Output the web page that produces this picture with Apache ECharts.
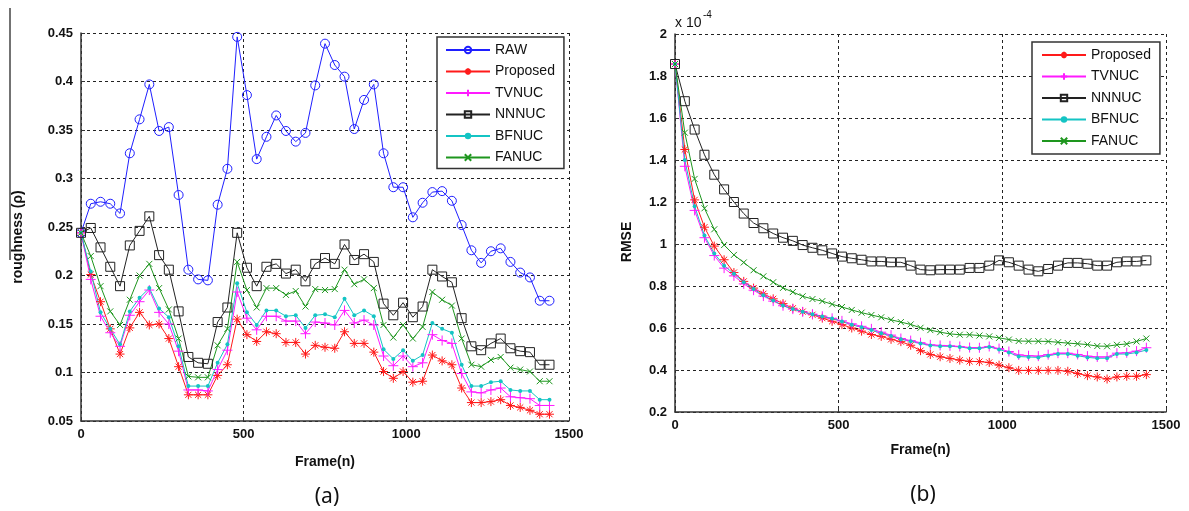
<!DOCTYPE html>
<html>
<head>
<meta charset="utf-8">
<script src="https://cdn.jsdelivr.net/npm/echarts@6/dist/echarts.min.js"></script>
<style>
html,body{margin:0;padding:0;background:#fff;}
#c{width:1189px;height:511px;}
</style>
</head>
<body>
<div id="c"></div>
<script>
// Frame positions of the markers
const frames = [0,30,60,90,120,150,180,210,240,270,300,330,360,390,420,450,480,510,540,570,600,630,660,690,720,750,780,810,840,870,900,930,960,990,1020,1050,1080,1110,1140,1170,1200,1230,1260,1290,1320,1350,1380,1410,1440];

// (a) roughness
const rawRough  = [0.244,0.274,0.276,0.274,0.264,0.326,0.361,0.397,0.349,0.353,0.283,0.206,0.196,0.195,0.273,0.310,0.446,0.386,0.320,0.343,0.365,0.349,0.338,0.347,0.396,0.439,0.417,0.405,0.351,0.381,0.397,0.326,0.291,0.291,0.260,0.275,0.286,0.287,0.277,0.252,0.226,0.213,0.225,0.228,0.214,0.203,0.198,0.174,0.174];
const propRough = [0.244,0.201,0.173,0.145,0.119,0.146,0.162,0.149,0.150,0.135,0.106,0.077,0.077,0.077,0.097,0.108,0.155,0.139,0.132,0.142,0.140,0.131,0.131,0.119,0.128,0.126,0.125,0.142,0.130,0.130,0.121,0.101,0.094,0.101,0.090,0.091,0.118,0.112,0.108,0.084,0.069,0.069,0.070,0.072,0.066,0.064,0.061,0.057,0.057];
const tvRough   = [0.244,0.196,0.158,0.141,0.127,0.159,0.173,0.185,0.162,0.150,0.122,0.082,0.082,0.081,0.103,0.123,0.183,0.156,0.144,0.158,0.158,0.153,0.153,0.140,0.152,0.151,0.149,0.164,0.151,0.154,0.149,0.117,0.107,0.117,0.106,0.110,0.139,0.133,0.130,0.099,0.080,0.079,0.082,0.084,0.075,0.074,0.073,0.066,0.066];
const nnRough   = [0.244,0.249,0.229,0.209,0.189,0.231,0.246,0.261,0.221,0.206,0.163,0.116,0.110,0.109,0.152,0.167,0.244,0.208,0.189,0.209,0.212,0.202,0.206,0.194,0.212,0.218,0.212,0.232,0.216,0.222,0.214,0.171,0.159,0.172,0.157,0.168,0.206,0.199,0.193,0.156,0.127,0.123,0.130,0.135,0.125,0.122,0.121,0.108,0.108];
const bfRough   = [0.244,0.204,0.162,0.145,0.129,0.163,0.177,0.187,0.166,0.157,0.127,0.086,0.086,0.086,0.110,0.129,0.192,0.162,0.149,0.164,0.164,0.158,0.159,0.146,0.159,0.160,0.157,0.176,0.159,0.164,0.158,0.124,0.114,0.123,0.112,0.118,0.151,0.145,0.141,0.108,0.086,0.086,0.090,0.091,0.082,0.081,0.081,0.072,0.072];
const faRough   = [0.244,0.220,0.189,0.163,0.149,0.175,0.200,0.212,0.187,0.165,0.135,0.096,0.095,0.095,0.128,0.145,0.214,0.185,0.167,0.187,0.187,0.180,0.184,0.168,0.186,0.185,0.186,0.206,0.191,0.196,0.187,0.149,0.136,0.149,0.135,0.147,0.183,0.175,0.169,0.135,0.108,0.106,0.113,0.116,0.105,0.103,0.101,0.091,0.091];

// (b) RMSE, in units of 1e-4
const propRmse = [1.857,1.45,1.21,1.08,0.99,0.925,0.864,0.822,0.790,0.763,0.739,0.716,0.694,0.678,0.663,0.647,0.632,0.616,0.600,0.585,0.569,0.560,0.546,0.535,0.518,0.492,0.474,0.463,0.455,0.447,0.441,0.440,0.436,0.423,0.411,0.398,0.398,0.398,0.398,0.398,0.394,0.383,0.373,0.367,0.357,0.367,0.370,0.370,0.378];
const tvRmse   = [1.857,1.37,1.16,1.03,0.945,0.885,0.848,0.810,0.780,0.752,0.728,0.706,0.690,0.677,0.666,0.656,0.646,0.634,0.620,0.608,0.596,0.580,0.566,0.550,0.540,0.530,0.520,0.517,0.515,0.512,0.507,0.506,0.512,0.502,0.488,0.472,0.468,0.466,0.473,0.480,0.480,0.474,0.466,0.462,0.462,0.480,0.482,0.490,0.506];
const nnRmse   = [1.857,1.68,1.545,1.425,1.33,1.26,1.20,1.145,1.10,1.075,1.05,1.03,1.015,0.995,0.982,0.97,0.955,0.940,0.932,0.925,0.917,0.917,0.913,0.913,0.897,0.878,0.875,0.878,0.878,0.878,0.886,0.886,0.897,0.922,0.913,0.897,0.878,0.870,0.881,0.897,0.910,0.910,0.906,0.897,0.897,0.913,0.917,0.917,0.922];
const bfRmse   = [1.857,1.40,1.18,1.04,0.955,0.897,0.858,0.818,0.786,0.756,0.731,0.707,0.690,0.677,0.665,0.655,0.645,0.631,0.615,0.604,0.590,0.575,0.562,0.546,0.537,0.526,0.517,0.513,0.513,0.510,0.503,0.503,0.510,0.498,0.483,0.464,0.462,0.460,0.468,0.476,0.476,0.468,0.460,0.456,0.456,0.476,0.476,0.483,0.495];
const faRmse   = [1.857,1.53,1.31,1.17,1.07,0.995,0.948,0.912,0.875,0.846,0.818,0.791,0.771,0.751,0.738,0.728,0.713,0.700,0.686,0.673,0.662,0.651,0.639,0.628,0.617,0.601,0.590,0.580,0.572,0.568,0.568,0.564,0.560,0.553,0.545,0.538,0.537,0.537,0.536,0.532,0.528,0.525,0.521,0.514,0.513,0.520,0.524,0.536,0.550];

const FONT = 'Liberation Sans';
const ASTER = 'path://M0,5L10,5M5,0L5,10M1.6,1.6L8.4,8.4M8.4,1.6L1.6,8.4';
const PLUS = 'path://M0,5L10,5M5,0L5,10';
const CROSS = 'path://M0,0L10,10M10,0L0,10';

const styles = {
  RAW:      {color:'#1f1fff', symbol:'circle', size:9, hollow:true},
  Proposed: {color:'#ff1a1a', symbol:ASTER, size:9, stroke:true},
  TVNUC:    {color:'#ff1aff', symbol:PLUS, size:10, stroke:true},
  NNNUC:    {color:'#222222', symbol:'rect', size:9, hollow:true},
  BFNUC:    {color:'#14c4c4', symbol:'circle', size:4},
  FANUC:    {color:'#1e961e', symbol:CROSS, size:6, stroke:true}
};

function mk(name, vals, idx) {
  const s = styles[name];
  let itemStyle;
  if (s.hollow) itemStyle = {color:'rgba(0,0,0,0)', borderColor:s.color, borderWidth:1};
  else if (s.stroke) itemStyle = {color:s.color, borderColor:s.color, borderWidth:1};
  else itemStyle = {color:s.color};
  return {
    name: name, type:'line', xAxisIndex: idx, yAxisIndex: idx,
    data: frames.map((f,i)=>[f, vals[i]]),
    symbol: s.symbol, symbolSize: s.size, showAllSymbol: true,
    lineStyle: {color:s.color, width:1},
    itemStyle: itemStyle,
    emphasis: {disabled:true},
    animation:false, z: 3
  };
}

function xAx(grid) {
  return {
    type:'value', gridIndex:grid, min:0, max:1500, interval:500,
    axisLine:{show:true, onZero:false, lineStyle:{color:'#333', width:1.5}},
    axisTick:{show:true, inside:true, length:4, lineStyle:{color:'#333'}},
    axisLabel:{margin:7, color:'#111', fontFamily:FONT, fontWeight:'bold', fontSize:13,
      formatter: v => String(Math.round(v))},
    splitLine:{show:true, lineStyle:{type:[3,3], color:'#222', width:1}},
    name:'Frame(n)', nameLocation:'middle', nameGap: grid===0 ? 34 : 31,
    nameTextStyle:{color:'#111', fontFamily:FONT, fontWeight:'bold', fontSize:14}
  };
}
function yAx(grid, min, max, step) {
  return {
    type:'value', gridIndex:grid, min:min, max:max, interval:step,
    axisLine:{show:true, onZero:false, lineStyle:{color:'#333', width:1.5}},
    axisTick:{show:true, inside:true, length:4, lineStyle:{color:'#333'}},
    axisLabel:{margin:8, color:'#111', fontFamily:FONT, fontWeight:'bold', fontSize:13,
      formatter: v => String(Math.round(v*100)/100)},
    splitLine:{show:true, lineStyle:{type:[3,3], color:'#222', width:1}}
  };
}

function legend(names, left, top, pad) {
  return {
    data: names, orient:'vertical', left:left, top:top,
    itemWidth:44, itemHeight:8, itemGap:7.5, padding:pad,
    backgroundColor:'#fff', borderColor:'#333', borderWidth:1.5, borderRadius:0,
    textStyle:{fontFamily:FONT, fontSize:14, color:'#111', lineHeight:14},
    selectedMode:false, z:10
  };
}

const chart = echarts.init(document.getElementById('c'), null, {renderer:'canvas'});
chart.setOption({
  backgroundColor:'#fff',
  animation:false,
  grid:[
    {left:81, top:33, width:488, height:388},
    {left:675, top:34, width:491, height:378}
  ],
  xAxis:[xAx(0), xAx(1)],
  yAxis:[yAx(0,0.05,0.45,0.05), yAx(1,0.2,2,0.2)],
  legend:[
    legend(['RAW','Proposed','TVNUC','NNNUC','BFNUC','FANUC'], 437, 37, [6,9,4,8]),
    legend(['Proposed','TVNUC','NNNUC','BFNUC','FANUC'], 1032, 42, [6,9,6,9])
  ],
  series:[
    mk('RAW', rawRough, 0),
    mk('Proposed', propRough, 0),
    mk('TVNUC', tvRough, 0),
    mk('NNNUC', nnRough, 0),
    mk('BFNUC', bfRough, 0),
    mk('FANUC', faRough, 0),
    mk('Proposed', propRmse, 1),
    mk('TVNUC', tvRmse, 1),
    mk('NNNUC', nnRmse, 1),
    mk('BFNUC', bfRmse, 1),
    mk('FANUC', faRmse, 1)
  ],
  graphic:[
    {type:'line', shape:{x1:10, y1:8, x2:10, y2:260}, style:{stroke:'#444', lineWidth:1.5}},
    {type:'text', x:18, y:237, rotation:Math.PI/2,
      style:{text:'roughness (\u03c1)', font:'bold 14px "Liberation Sans"', fill:'#111', textAlign:'center', textVerticalAlign:'middle'}},
    {type:'text', x:627, y:242, rotation:Math.PI/2,
      style:{text:'RMSE', font:'bold 14px "Liberation Sans"', fill:'#111', textAlign:'center', textVerticalAlign:'middle'}},
    {type:'text', x:675, y:23,
      style:{text:'x 10', font:'14px "Liberation Sans"', fill:'#111', textAlign:'left', textVerticalAlign:'middle'}},
    {type:'text', x:703, y:15,
      style:{text:'-4', font:'10px "Liberation Sans"', fill:'#111', textAlign:'left', textVerticalAlign:'middle'}},
    {type:'text', x:327, y:497,
      style:{text:'(a)', font:'21px "Noto Sans"', fill:'#111', textAlign:'center', textVerticalAlign:'middle'}},
    {type:'text', x:923, y:495,
      style:{text:'(b)', font:'21px "Noto Sans"', fill:'#111', textAlign:'center', textVerticalAlign:'middle'}}
  ]
});
</script>
</body>
</html>
